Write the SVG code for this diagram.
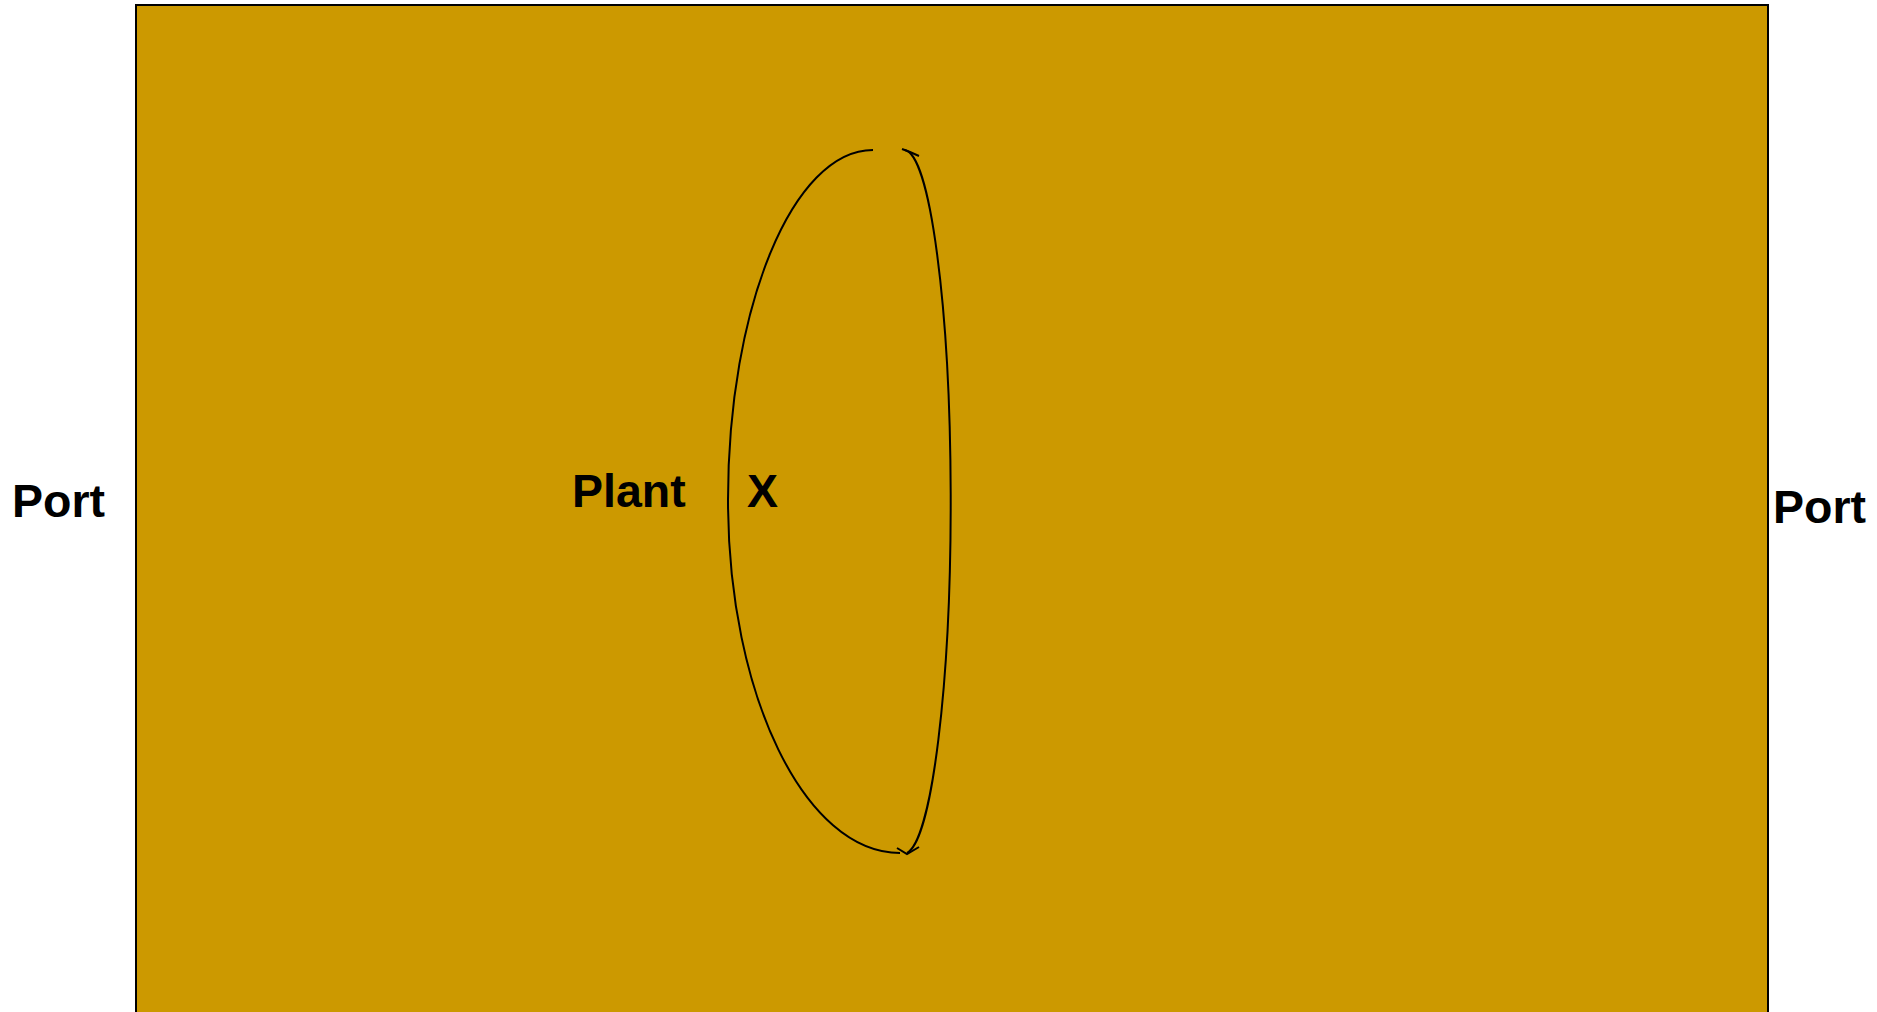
<svg xmlns="http://www.w3.org/2000/svg" width="1877" height="1012" viewBox="0 0 1877 1012">
<style>
.lbl{font-family:"Liberation Sans",Arial,sans-serif;font-weight:bold;font-size:46.5px;fill:#000}
.edge{fill:none;stroke:#000;stroke-width:2}
</style>
<rect x="0" y="0" width="1877" height="1012" fill="#fff"/>
<g id="plant">
<rect x="136" y="5" width="1632" height="1020" fill="#CC9900" stroke="#000" stroke-width="2"/>
<text class="lbl" x="572" y="507">Plant</text>
</g>
<g id="port-left"><text class="lbl" x="12" y="517">Port</text></g>
<g id="port-right"><text class="lbl" x="1773" y="523">Port</text></g>
<g id="x"><text class="lbl" x="747" y="507">X</text></g>
<g id="connectors">
<path class="edge" d="M 873 150 C 793 150 728 307 728 500 C 728 695 805 853 900 853"/>
<path class="edge" d="M 905 150 A 47 352 0 0 1 907 853"/>
<path class="edge" d="M 902 149 L 910 152 L 919 156"/>
<path class="edge" d="M 897 848 L 907 854 L 919 847"/>
</g>
</svg>
